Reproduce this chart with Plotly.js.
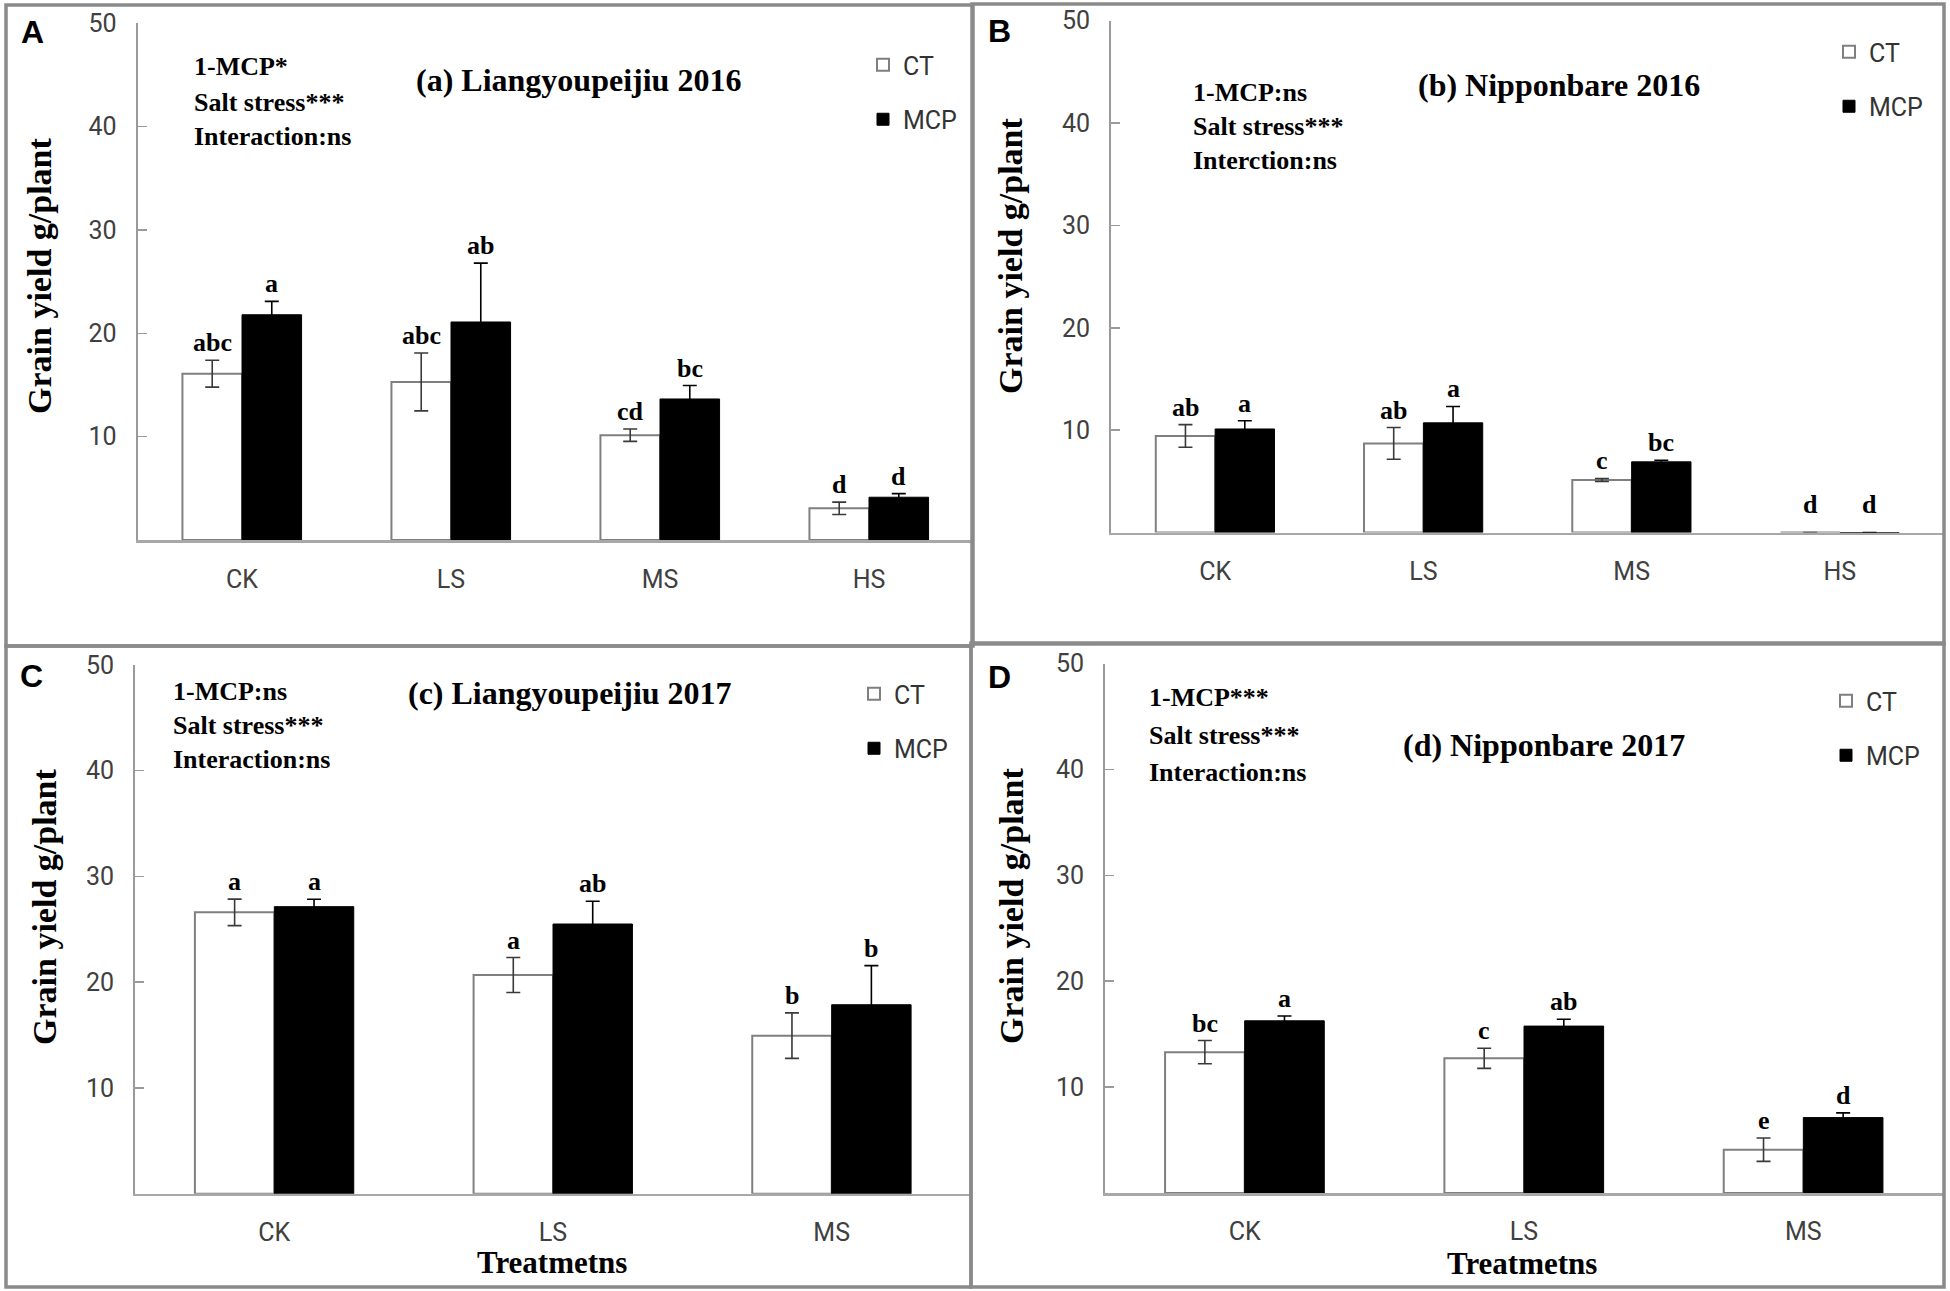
<!DOCTYPE html>
<html><head><meta charset="utf-8">
<script src="https://cdn.plot.ly/plotly-3.0.1.min.js"></script>
<style>html,body{margin:0;padding:0;background:#fff}#chart{width:1950px;height:1291px}</style>
</head><body><div id="chart"></div>
<script>
// ---------- DATA ----------
const categories4 = ['CK', 'LS', 'MS', 'HS'];
const categories3 = ['CK', 'LS', 'MS'];
const seriesNames = ['CT', 'MCP'];
const yTickVals = [10, 20, 30, 40, 50];

// (a) Liangyoupeijiu 2016
const aCT = [16.1, 15.3, 10.15, 3.07];
const aCTerr = [1.3, 2.8, 0.6, 0.6];
const aMCP = [21.8, 21.1, 13.65, 4.14];
const aMCPerr = [1.3, 5.7, 1.3, 0.35];
const aCTletters = ['abc', 'abc', 'cd', 'd'];
const aMCPletters = ['a', 'ab', 'bc', 'd'];

// (b) Nipponbare 2016
const bCT = [9.44, 8.71, 5.14, 0];
const bCTerr = [1.1, 1.55, 0.15, 0];
const bMCP = [10.12, 10.72, 6.91, 0];
const bMCPerr = [0.8, 1.6, 0.15, 0];
const bCTletters = ['ab', 'ab', 'c', 'd'];
const bMCPletters = ['a', 'a', 'bc', 'd'];

// (c) Liangyoupeijiu 2017
const cCT = [26.6, 20.68, 14.95];
const cCTerr = [1.25, 1.65, 2.15];
const cMCP = [27.14, 25.5, 17.87];
const cMCPerr = [0.7, 2.15, 3.7];
const cCTletters = ['a', 'a', 'b'];
const cMCPletters = ['a', 'ab', 'b'];

// (d) Nipponbare 2017
const dCT = [13.3, 12.72, 4.09];
const dCTerr = [1.1, 0.95, 1.1];
const dMCP = [16.26, 15.76, 7.12];
const dMCPerr = [0.45, 0.65, 0.45];
const dCTletters = ['bc', 'c', 'e'];
const dMCPletters = ['a', 'ab', 'd'];

const panelTitles = ['(a) Liangyoupeijiu 2016', '(b) Nipponbare 2016', '(c) Liangyoupeijiu 2017', '(d) Nipponbare 2017'];
const statsA = ['1-MCP*', 'Salt stress***', 'Interaction:ns'];
const statsB = ['1-MCP:ns', 'Salt stress***', 'Interction:ns'];
const statsC = ['1-MCP:ns', 'Salt stress***', 'Interaction:ns'];
const statsD = ['1-MCP***', 'Salt stress***', 'Interaction:ns'];
const panelLetters = ['A', 'B', 'C', 'D'];
const yTitle = 'Grain yield g/plant';
const xTitle = 'Treatmetns';

// ---------- LAYOUT HELPERS ----------
const W = 1950, H = 1291;
const px = x => x / W;
const py = y => 1 - y / H;
const SERIF = 'Liberation Serif, Times New Roman, serif';
const SANSN = 'Liberation Sans Narrow, Arial Narrow, Roboto, Liberation Sans, sans-serif';
const SANSB = 'Liberation Sans, Arial, sans-serif';

const panels = [
  {cats: categories4, ct: aCT, ctErr: aCTerr, mcp: aMCP, mcpErr: aMCPerr, ctLet: aCTletters, mcpLet: aMCPletters, stats: statsA,
   xd: [137.5, 973.5], yd: [23.4, 540], title: [578, 80], statsPos: [192, [66, 103, 137]], label: [32, 32],
   ytitle: [40, 276], legend: [863, 42], catStand: 15, xtitle: null},
  {cats: categories4, ct: bCT, ctErr: bCTerr, mcp: bMCP, mcpErr: bMCPerr, ctLet: bCTletters, mcpLet: bMCPletters, stats: statsB,
   xd: [1111, 1944], yd: [20.6, 532.6], title: [1559, 85], statsPos: [1191, [92.5, 126.5, 160.5]], label: [1000, 31],
   ytitle: [1011, 256], legend: [1829, 29], catStand: 15, xtitle: null},
  {cats: categories3, ct: cCT, ctErr: cCTerr, mcp: cMCP, mcpErr: cMCPerr, ctLet: cCTletters, mcpLet: cMCPletters, stats: statsC,
   xd: [135, 971], yd: [664.8, 1193.8], title: [570, 693], statsPos: [171, [692, 726, 760]], label: [31, 676],
   ytitle: [44, 907], legend: [854, 671], catStand: 15, xtitle: [552, 1262]},
  {cats: categories3, ct: dCT, ctErr: dCTerr, mcp: dMCP, mcpErr: dMCPerr, ctLet: dCTletters, mcpLet: dMCPletters, stats: statsD,
   xd: [1105, 1943], yd: [663.5, 1193], title: [1544, 745], statsPos: [1147, [697, 735, 772]], label: [1000, 677],
   ytitle: [1011, 906], legend: [1826, 678], catStand: 14, xtitle: [1522, 1263]}
];

const traces = [];
const annotations = [];
const layout = {
  width: W, height: H,
  margin: {l: 0, r: 0, t: 0, b: 0},
  paper_bgcolor: '#fff', plot_bgcolor: 'rgba(0,0,0,0)',
  barmode: 'group', bargap: 0.43, bargroupgap: 0,
  showlegend: true,
  annotations: annotations,
  shapes: []
};

const BAR_FRAC = (1 - 0.43) / 2;

panels.forEach((p, i) => {
  const n = i === 0 ? '' : String(i + 1);
  const xa = 'x' + n, ya = 'y' + n;
  const legId = 'legend' + n;
  traces.push({
    type: 'bar', name: seriesNames[0], x: p.cats, y: p.ct, xaxis: xa, yaxis: ya,
    marker: {color: '#ffffff', line: {color: '#7f7f7f', width: 2}},
    error_y: {type: 'data', array: p.ctErr, visible: true, color: '#3a3a3a', thickness: 1.6, width: 7},
    legend: legId, legendgroup: 'ct' + i, showlegend: true, hoverinfo: 'skip'
  });
  traces.push({
    type: 'bar', name: seriesNames[1], x: p.cats, y: p.mcp, xaxis: xa, yaxis: ya,
    marker: {color: '#000000', line: {color: '#000000', width: 1}},
    error_y: {type: 'data', array: p.mcpErr, visible: true, color: '#000000', thickness: 1.6, width: 7},
    legend: legId, legendgroup: 'mcp' + i, showlegend: true, hoverinfo: 'skip'
  });

  layout['xaxis' + n] = {
    domain: [px(p.xd[0]), px(p.xd[1])], anchor: ya, type: 'category',
    range: [-0.5, p.cats.length - 0.5],
    showline: true, linecolor: '#a8a8a8', linewidth: 2.5, ticks: '', showgrid: false, zeroline: false,
    tickfont: {family: SANSN, size: 25, color: '#404040'}, ticklabelstandoff: p.catStand, fixedrange: true
  };
  layout['yaxis' + n] = {
    domain: [py(p.yd[1]), py(p.yd[0])], anchor: xa, range: [0, 50],
    tickvals: yTickVals, ticks: 'inside', ticklen: 9, tickwidth: 1.5, tickcolor: '#9a9a9a',
    showline: true, linecolor: '#9a9a9a', linewidth: 2, showgrid: false, zeroline: false,
    tickfont: {family: SANSN, size: 25, color: '#404040'}, ticklabelstandoff: 14, fixedrange: true
  };
  layout[legId] = {
    x: px(p.legend[0]), y: py(p.legend[1]), xanchor: 'left', yanchor: 'top',
    xref: 'paper', yref: 'paper', bgcolor: 'rgba(0,0,0,0)', borderwidth: 0,
    traceorder: 'grouped', tracegroupgap: 19, itemwidth: 30,
    font: {family: SANSN, size: 25, color: '#333'}
  };

  // significance letters above bars (positions from the data + error)
  p.cats.forEach((c, k) => {
    [[p.ct, p.ctErr, p.ctLet, -BAR_FRAC / 2], [p.mcp, p.mcpErr, p.mcpLet, BAR_FRAC / 2]].forEach(s => {
      const top = s[0][k] + s[1][k];
      annotations.push({
        xref: xa, yref: ya, x: k + s[3], y: top, text: s[2][k],
        showarrow: false, xanchor: 'center', yanchor: 'bottom', yshift: top === 0 ? 12 : 1,
        font: {family: SERIF, size: 26, color: '#000', weight: 'bold'}
      });
    });
  });

  // panel title
  annotations.push({xref: 'paper', yref: 'paper', x: px(p.title[0]), y: py(p.title[1]), text: '<b>' + panelTitles[i] + '</b>',
    showarrow: false, xanchor: 'center', yanchor: 'middle', font: {family: SERIF, size: 32, color: '#000'}});
  // stats lines
  p.stats.forEach((t, k) => {
    annotations.push({xref: 'paper', yref: 'paper', x: px(p.statsPos[0]), y: py(p.statsPos[1][k]), text: '<b>' + t + '</b>',
      showarrow: false, xanchor: 'left', yanchor: 'middle', font: {family: SERIF, size: 26, color: '#000'}});
  });
  // panel letter
  annotations.push({xref: 'paper', yref: 'paper', x: px(p.label[0]), y: py(p.label[1]), text: '<b>' + panelLetters[i] + '</b>',
    showarrow: false, xanchor: 'center', yanchor: 'middle', font: {family: SANSB, size: 32, color: '#000'}});
  // y title
  annotations.push({xref: 'paper', yref: 'paper', x: px(p.ytitle[0]), y: py(p.ytitle[1]), text: '<b>' + yTitle + '</b>',
    showarrow: false, xanchor: 'center', yanchor: 'middle', textangle: -90, font: {family: SERIF, size: 34, color: '#000'}});
  if (p.xtitle) {
    annotations.push({xref: 'paper', yref: 'paper', x: px(p.xtitle[0]), y: py(p.xtitle[1]), text: '<b>' + xTitle + '</b>',
      showarrow: false, xanchor: 'center', yanchor: 'middle', font: {family: SERIF, size: 31, color: '#000'}});
  }
});

// panel frames
const frameLine = {color: '#8a8a8a', width: 3.5};
[[6, 5, 973, 646], [972, 4, 1944, 644], [6, 646, 971, 1287], [971, 643, 1944, 1287]].forEach(r => {
  layout.shapes.push({type: 'rect', xref: 'paper', yref: 'paper', x0: px(r[0]), x1: px(r[2]), y0: py(r[1]), y1: py(r[3]),
    line: frameLine, fillcolor: 'rgba(0,0,0,0)', layer: 'above'});
});

Plotly.newPlot('chart', traces, layout, {displayModeBar: false, staticPlot: true});
</script></body></html>
